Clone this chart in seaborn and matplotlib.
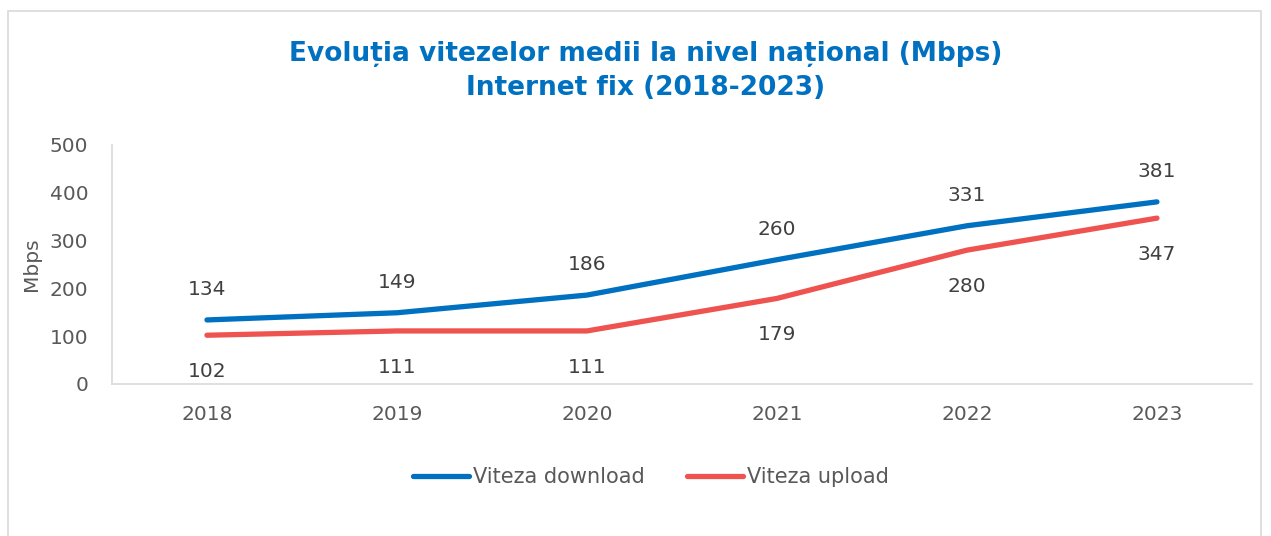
import pandas as pd
import matplotlib
matplotlib.use("Agg")
import matplotlib.pyplot as plt
import seaborn as sns
from matplotlib.patches import Rectangle

# date
ani = ["2018", "2019", "2020", "2021", "2022", "2023"]
download = [134, 149, 186, 260, 331, 381]
upload = [102, 111, 111, 179, 280, 347]
serii = ["Viteza download", "Viteza upload"]
culori = ["#0070C0", "#EF5350"]

df = pd.DataFrame({
    "An": ani * 2,
    "Viteza": download + upload,
    "Serie": [serii[0]] * len(ani) + [serii[1]] * len(ani),
})

sns.set_theme(style="white")
plt.rcParams["font.family"] = ["DejaVu Sans"]

fig = plt.figure(figsize=(12.71, 5.36), dpi=100)
ax = fig.add_axes([0.0881, 0.2836, 0.8969, 0.4459])

sns.lineplot(
    data=df, x="An", y="Viteza", hue="Serie",
    palette=culori, linewidth=3.8, ax=ax,
    solid_capstyle="round", legend=False,
)

# etichete valori
for i, v in enumerate(download):
    ax.annotate(str(v), (i, v), xytext=(0, 22), textcoords="offset points",
                ha="center", va="center", fontsize=14.5, color="#404040")
for i, v in enumerate(upload):
    ax.annotate(str(v), (i, v), xytext=(0, -26), textcoords="offset points",
                ha="center", va="center", fontsize=14.5, color="#404040")

ax.set_xlim(-0.5, 5.5)
ax.set_ylim(0, 500)
ax.set_yticks(range(0, 501, 100))
ax.set_xlabel("")
ax.set_ylabel("Mbps", fontsize=14.5, color="#595959", labelpad=6)
ax.tick_params(axis="both", labelsize=14.5, colors="#595959", length=0)
ax.tick_params(axis="x", pad=15)
ax.tick_params(axis="y", pad=17)

for s in ["top", "right"]:
    ax.spines[s].set_visible(False)
ax.spines["left"].set_color("#D9D9D9")
ax.spines["bottom"].set_color("#D9D9D9")
ax.spines["left"].set_linewidth(1.2)
ax.spines["bottom"].set_linewidth(1.2)

fig.text(0.508, 0.868,
         "Evoluția vitezelor medii la nivel național (Mbps)\nInternet fix (2018-2023)",
         ha="center", va="center", fontsize=19, fontweight="bold",
         color="#0070C0", linespacing=1.4)

# legenda
handles = [plt.Line2D([0], [0], color=c, lw=3.8, solid_capstyle="round") for c in culori]
leg = fig.legend(handles, serii, loc="center", bbox_to_anchor=(0.512, 0.11),
                 ncol=2, frameon=False, fontsize=15, handlelength=2.7,
                 handletextpad=0.2, columnspacing=2.0)
for t in leg.get_texts():
    t.set_color("#595959")

# chenar
fig.patches.append(Rectangle((0.006, -0.05), 0.986, 1.03, transform=fig.transFigure,
                             fill=False, edgecolor="#D9D9D9", linewidth=1.2))

fig.savefig("out.png", dpi=100)
